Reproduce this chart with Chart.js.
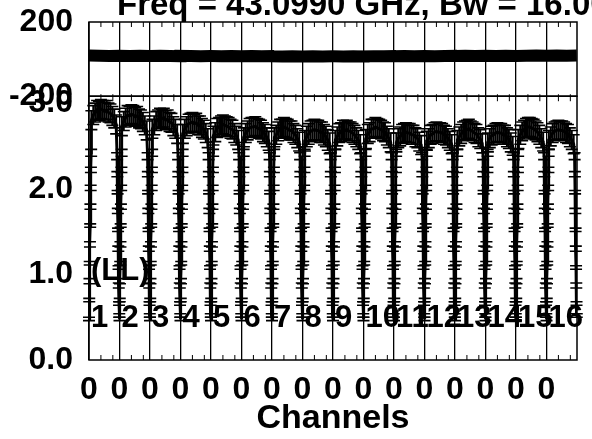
<!DOCTYPE html>
<html>
<head>
<meta charset="utf-8">
<script src="https://cdn.jsdelivr.net/npm/chart.js@4.4.1/dist/chart.umd.min.js"></script>
<style>
  body { margin: 0; background: #fff; }
  canvas { display: block; }
</style>
</head>
<body>
<canvas id="bpChart" width="592" height="439"></canvas>
<script>
// Texte
const titleText = 'Freq = 43.0990 GHz, Bw = 16.00';
const polLabel = '(LL)';
const xTitle = 'Channels';
const ifLabels = ['1', '2', '3', '4', '5', '6', '7', '8', '9', '10', '11', '12', '13', '14', '15', '16'];

// Achse X: 16 IFs, 128 Kanäle pro IF
const ifStarts = [0, 128, 256, 384, 512, 640, 768, 896, 1024, 1152, 1280, 1408, 1536, 1664, 1792, 1920];
const xMax = 2048;
const xTickLabels = ['0', '0', '0', '0', '0', '0', '0', '0', '0', '0', '0', '0', '0', '0', '0', '0'];
const minorOffsets = [50, 100];

// Achse Y
const phaseTicks = [-200, 200];
const ampTicks = [0, 1, 2, 3];
const ampTickLabels = ['0.0', '1.0', '2.0', '3.0'];

// Bandkanten (steiler Abfall am Rand jedes IF)
const riseChan = [0, 1, 2, 3, 4, 5, 6, 7, 8, 9];
const riseAmp = [0.48, 0.70, 0.92, 1.13, 1.35, 1.57, 1.79, 2.01, 2.22, 2.42];
const riseErr = [0.02, 0.02, 0.03, 0.02, 0.03, 0.02, 0.03, 0.03, 0.03, 0.04];
const fallChan = [118, 119, 120, 121, 122, 123, 124, 125, 126, 127];
const fallAmp = [2.38, 2.17, 1.96, 1.74, 1.52, 1.30, 1.08, 0.87, 0.66, 0.52];
const fallErr = [0.04, 0.03, 0.02, 0.03, 0.02, 0.03, 0.02, 0.03, 0.02, 0.02];

// Plateau der Amplitude pro IF
const plateauChan = [10, 18, 26, 34, 42, 50, 58, 66, 74, 82, 90, 98, 106, 114];
const ampByIF = [
    [2.80, 2.86, 2.89, 2.92, 2.91, 2.93, 2.92, 2.90, 2.92, 2.89, 2.88, 2.85, 2.82, 2.75],
    [2.73, 2.79, 2.83, 2.86, 2.85, 2.87, 2.86, 2.84, 2.85, 2.82, 2.81, 2.78, 2.74, 2.68],
    [2.70, 2.74, 2.79, 2.81, 2.83, 2.82, 2.83, 2.80, 2.81, 2.78, 2.77, 2.73, 2.70, 2.64],
    [2.64, 2.70, 2.73, 2.76, 2.77, 2.78, 2.76, 2.77, 2.74, 2.74, 2.71, 2.69, 2.65, 2.59],
    [2.62, 2.66, 2.71, 2.72, 2.74, 2.75, 2.74, 2.73, 2.72, 2.70, 2.69, 2.65, 2.62, 2.57],
    [2.60, 2.65, 2.68, 2.71, 2.72, 2.72, 2.73, 2.71, 2.70, 2.69, 2.66, 2.64, 2.60, 2.56],
    [2.60, 2.63, 2.67, 2.70, 2.70, 2.72, 2.71, 2.70, 2.68, 2.68, 2.65, 2.63, 2.59, 2.55],
    [2.56, 2.61, 2.64, 2.67, 2.68, 2.69, 2.68, 2.68, 2.66, 2.66, 2.63, 2.61, 2.57, 2.53],
    [2.57, 2.61, 2.65, 2.66, 2.69, 2.68, 2.69, 2.67, 2.67, 2.65, 2.63, 2.60, 2.57, 2.52],
    [2.58, 2.64, 2.66, 2.70, 2.70, 2.72, 2.71, 2.70, 2.69, 2.67, 2.66, 2.62, 2.59, 2.54],
    [2.54, 2.59, 2.61, 2.64, 2.65, 2.66, 2.65, 2.65, 2.63, 2.63, 2.60, 2.59, 2.55, 2.51],
    [2.56, 2.59, 2.63, 2.64, 2.66, 2.67, 2.66, 2.66, 2.65, 2.63, 2.62, 2.59, 2.56, 2.52],
    [2.57, 2.61, 2.64, 2.67, 2.68, 2.69, 2.70, 2.68, 2.67, 2.65, 2.64, 2.60, 2.58, 2.53],
    [2.54, 2.59, 2.62, 2.63, 2.65, 2.66, 2.65, 2.65, 2.63, 2.63, 2.60, 2.58, 2.54, 2.50],
    [2.58, 2.63, 2.67, 2.69, 2.71, 2.72, 2.72, 2.71, 2.70, 2.68, 2.66, 2.63, 2.59, 2.55],
    [2.57, 2.61, 2.65, 2.67, 2.68, 2.69, 2.68, 2.68, 2.67, 2.65, 2.64, 2.60, 2.57, 2.52]
];
const ampErrIF = [0.11, 0.11, 0.11, 0.11, 0.11, 0.11, 0.11, 0.12, 0.11, 0.11, 0.11, 0.11, 0.11, 0.11, 0.11, 0.11];

// Phase pro IF
const phaseChan = [0, 43, 85, 127];
const phaseByIF = [
    [19, 18, 17, 18], [18, 17, 18, 17], [17, 18, 17, 16], [18, 17, 16, 17],
    [17, 16, 17, 16], [16, 17, 15, 16], [15, 14, 15, 14], [14, 15, 14, 15],
    [15, 14, 15, 14], [15, 16, 16, 17], [16, 17, 16, 17], [17, 16, 17, 18],
    [17, 18, 17, 18], [18, 17, 18, 17], [17, 18, 19, 18], [18, 19, 18, 19]
];

const ampPoints = [];
const phasePoints = [];
ifStarts.forEach((s, k) => {
    riseChan.forEach((c, j) => ampPoints.push({ x: s + c, y: riseAmp[j], e: riseErr[j] }));
    plateauChan.forEach((c, j) => ampPoints.push({ x: s + c, y: ampByIF[k][j], e: ampErrIF[k] }));
    fallChan.forEach((c, j) => ampPoints.push({ x: s + c, y: fallAmp[j], e: fallErr[j] }));
    phaseChan.forEach((c, j) => phasePoints.push({ x: s + c, y: phaseByIF[k][j] }));
});

const FONT_FAMILY = '"Liberation Sans", Arial, Helvetica, sans-serif';
const bigFont = { family: FONT_FAMILY, size: 32, weight: 'bold' };

// y-Achsen: feste Breite, kein Überstand oben/unten
function fitYAxis(axis) {
    axis.width = 89;
    axis.paddingTop = 0;
    axis.paddingBottom = 0;
}

// Fehlerbalken mit Endstrichen
const errorBars = {
    id: 'errorBars',
    afterDatasetsDraw(chart) {
        const ctx = chart.ctx;
        const xs = chart.scales.x;
        const ys = chart.scales.yAmp;
        ctx.save();
        ctx.strokeStyle = '#000';
        ampPoints.forEach(p => {
            const px = xs.getPixelForValue(p.x);
            const y1 = ys.getPixelForValue(p.y + p.e);
            const y2 = ys.getPixelForValue(p.y - p.e);
            ctx.lineWidth = 2;
            ctx.beginPath();
            ctx.moveTo(px, y1); ctx.lineTo(px, y2);
            ctx.stroke();
            ctx.lineWidth = 1.6;
            ctx.beginPath();
            ctx.moveTo(px - 6, y1); ctx.lineTo(px + 6, y1);
            ctx.moveTo(px - 6, y2); ctx.lineTo(px + 6, y2);
            ctx.stroke();
        });
        ctx.restore();
    }
};

// Rahmen, kleine Striche, Beschriftungen
const panelDecor = {
    id: 'panelDecor',
    afterDraw(chart) {
        const ctx = chart.ctx;
        const area = chart.chartArea;
        const xs = chart.scales.x;
        const yp = chart.scales.yPhase;
        const ya = chart.scales.yAmp;
        ctx.save();
        ctx.strokeStyle = '#000';
        ctx.lineWidth = 1.5;
        ctx.strokeRect(area.left, yp.top, area.right - area.left, yp.bottom - yp.top);
        ctx.strokeRect(area.left, ya.top, area.right - area.left, ya.bottom - ya.top);

        ctx.lineWidth = 1;
        ctx.beginPath();
        ifStarts.forEach(s => {
            minorOffsets.forEach(m => {
                const px = xs.getPixelForValue(s + m);
                ctx.moveTo(px, yp.top); ctx.lineTo(px, yp.top + 5);
                ctx.moveTo(px, ya.top - 2); ctx.lineTo(px, ya.top + 5);
                ctx.moveTo(px, ya.bottom - 5); ctx.lineTo(px, ya.bottom);
            });
        });
        ctx.stroke();

        ctx.fillStyle = '#000';
        ctx.font = 'bold 31px ' + FONT_FAMILY;
        ctx.textAlign = 'left';
        ctx.textBaseline = 'middle';
        ifLabels.forEach((t, k) => {
            ctx.fillText(t, xs.getPixelForValue(ifStarts[k]) + 2, ya.getPixelForValue(0.49));
        });
        ctx.fillText(polLabel, xs.getPixelForValue(ifStarts[0]) + 2, ya.getPixelForValue(1.03));

        ctx.font = 'bold 33px ' + FONT_FAMILY;
        ctx.textBaseline = 'alphabetic';
        ctx.fillText(titleText, 117, 15);
        ctx.restore();
    }
};

const ctx = document.getElementById('bpChart').getContext('2d');
new Chart(ctx, {
    type: 'line',
    data: {
        datasets: [{
            label: 'Phase',
            data: phasePoints,
            yAxisID: 'yPhase',
            borderColor: '#000',
            borderWidth: 12,
            pointRadius: 0,
            tension: 0
        }, {
            label: 'Amplitude',
            data: ampPoints,
            yAxisID: 'yAmp',
            borderColor: '#000',
            borderWidth: 3,
            pointRadius: 0,
            tension: 0
        }]
    },
    options: {
        responsive: false,
        animation: false,
        devicePixelRatio: 1,
        layout: { padding: { top: 22, right: 15, left: 0, bottom: 0 } },
        plugins: { legend: { display: false }, tooltip: { enabled: false } },
        scales: {
            x: {
                type: 'linear',
                min: 0,
                max: xMax,
                afterBuildTicks: axis => { axis.ticks = ifStarts.map(v => ({ value: v })); },
                afterFit: axis => { axis.height = 79; },
                grid: { color: '#000', lineWidth: 1.3, drawTicks: false },
                border: { display: false },
                ticks: {
                    color: '#000', font: bigFont, padding: 11,
                    autoSkip: false, maxRotation: 0,
                    callback: (v, i) => xTickLabels[i]
                },
                title: { display: true, text: xTitle, color: '#000', font: { family: FONT_FAMILY, size: 34, weight: 'bold' }, padding: { top: 0, bottom: 0 } }
            },
            yAmp: {
                type: 'linear',
                position: 'left',
                stack: 'panels',
                stackWeight: 264,
                min: 0,
                max: 3.08,
                afterBuildTicks: axis => { axis.ticks = ampTicks.map(v => ({ value: v })); },
                afterFit: fitYAxis,
                grid: { display: false, drawTicks: false },
                border: { display: false },
                ticks: { color: '#000', font: bigFont, padding: 16, callback: (v, i) => ampTickLabels[i] }
            },
            yPhase: {
                type: 'linear',
                position: 'left',
                stack: 'panels',
                stackWeight: 74.3,
                min: -200,
                max: 200,
                afterBuildTicks: axis => { axis.ticks = phaseTicks.map(v => ({ value: v })); },
                afterFit: fitYAxis,
                grid: { display: false, drawTicks: false },
                border: { display: false },
                ticks: { color: '#000', font: bigFont, padding: 16, callback: v => String(v) }
            }
        }
    },
    plugins: [errorBars, panelDecor]
});
</script>
</body>
</html>
